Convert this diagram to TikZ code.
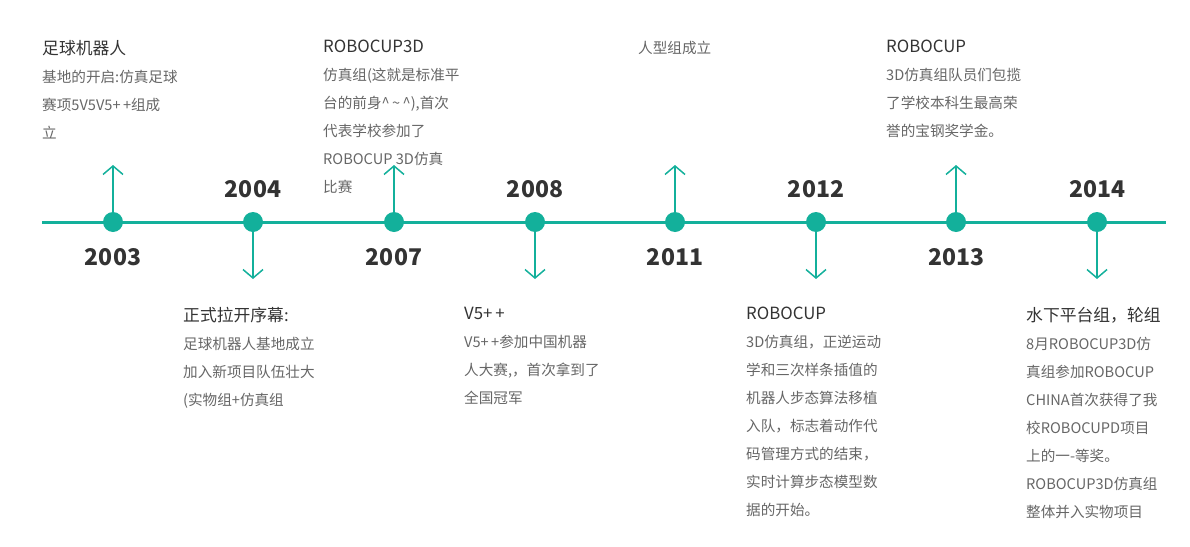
\documentclass[tikz,border=0pt]{standalone}
\usepackage{fontspec}
\setmainfont{Noto Sans CJK SC}
\usepackage{tikz}
\usetikzlibrary{arrows.meta, positioning}
\definecolor{teal1}{HTML}{13B09B}
\definecolor{ink}{HTML}{333333}
\definecolor{grey1}{HTML}{666666}
\newcommand{\evtitle}[1]{{\fontsize{16.8}{28}\selectfont\color{ink}#1}}

\begin{document}
\begin{tikzpicture}[x=1pt, y=-1pt,
    >={Straight Barb[length=8.5pt,width=20pt,line width=1.5pt]},
    dot/.style={circle, fill=teal1, minimum size=20pt, inner sep=0pt},
    arr/.style={->, draw=teal1, line width=1.5pt},
    year/.style={font=\fontsize{23}{26}\selectfont\bfseries, text=ink},
    evtext/.style={anchor=north west, inner sep=0pt, align=left, text=grey1, font=\fontsize{14.6}{28}\selectfont}]
    \useasboundingbox (0,0) rectangle (1190,546);

    % timeline
    \coordinate (tl) at (42,222);
    \coordinate (tr) at (1166,222);
    \draw[teal1, line width=3pt] (tl) -- (tr);

    % dots
    \node[dot] (d03) at (113,222) {};
    \node[dot] (d04) at (253,222) {};
    \node[dot] (d07) at (394,222) {};
    \node[dot] (d08) at (535,222) {};
    \node[dot] (d11) at (675,222) {};
    \node[dot] (d12) at (816,222) {};
    \node[dot] (d13) at (956,222) {};
    \node[dot] (d14) at (1097,222) {};

    % arrows
    \coordinate (u03) at (113,165);
    \coordinate (u07) at (394,165);
    \coordinate (u11) at (675,165);
    \coordinate (u13) at (956,165);
    \coordinate (w04) at (253,279);
    \coordinate (w08) at (535,279);
    \coordinate (w12) at (816,279);
    \coordinate (w14) at (1097,279);
    \draw[arr] (d03) -- (u03);
    \draw[arr] (d07) -- (u07);
    \draw[arr] (d11) -- (u11);
    \draw[arr] (d13) -- (u13);
    \draw[arr] (d04) -- (w04);
    \draw[arr] (d08) -- (w08);
    \draw[arr] (d12) -- (w12);
    \draw[arr] (d14) -- (w14);

    % years
    \node[year] (y03) at (113,257) {2003};
    \node[year] (y04) at (253,189) {2004};
    \node[year] (y07) at (394,257) {2007};
    \node[year] (y08) at (535,189) {2008};
    \node[year] (y11) at (675,257) {2011};
    \node[year] (y12) at (816,189) {2012};
    \node[year] (y13) at (956,257) {2013};
    \node[year] (y14) at (1097,189) {2014};

    % events above
    \node[evtext] (e03) at (42,40) {\evtitle{足球机器人}\\ 基地的开启:仿真足球\\ 赛项5V5V5+\,+组成\\ 立};
    \node[evtext] (e07) at (323,40) {\evtitle{ROBOCUP3D}\\ 仿真组(这就是标准平\\ 台的前身\textasciicircum\,\textasciitilde\,\textasciicircum),首次\\ 代表学校参加了\\ ROBOCUP 3D仿真\\ 比赛};
    \node[evtext] (e11) at (638,41) {人型组成立};
    \node[evtext] (e13) at (886,40) {\evtitle{ROBOCUP}\\ 3D仿真组队员们包揽\\ 了学校本科生最高荣\\ 誉的宝钢奖学金。};

    % events below
    \node[evtext] (e04) at (183,307) {\evtitle{正式拉开序幕:}\\ 足球机器人基地成立\\ 加入新项目队伍壮大\\ (实物组+仿真组};
    \node[evtext] (e08) at (464,307) {\evtitle{V5+\,+}\\ V5+\,+参加中国机器\\ 人大赛,，首次拿到了\\ 全国冠军};
    \node[evtext] (e12) at (746,307) {\evtitle{ROBOCUP}\\ 3D仿真组，正逆运动\\ 学和三次样条插值的\\ 机器人步态算法移植\\ 入队，标志着动作代\\ 码管理方式的结束，\\ 实时计算步态模型数\\ 据的开始。};
    \node[evtext] (e14) at (1026,307) {\evtitle{水下平台组，轮组}\\ 8月ROBOCUP3D仿\\ 真组参加ROBOCUP\\ CHINA首次获得了我\\ 校ROBOCUPD项目\\ 上的一-等奖。\\ ROBOCUP3D仿真组\\ 整体并入实物项目};
\end{tikzpicture}
\end{document}
